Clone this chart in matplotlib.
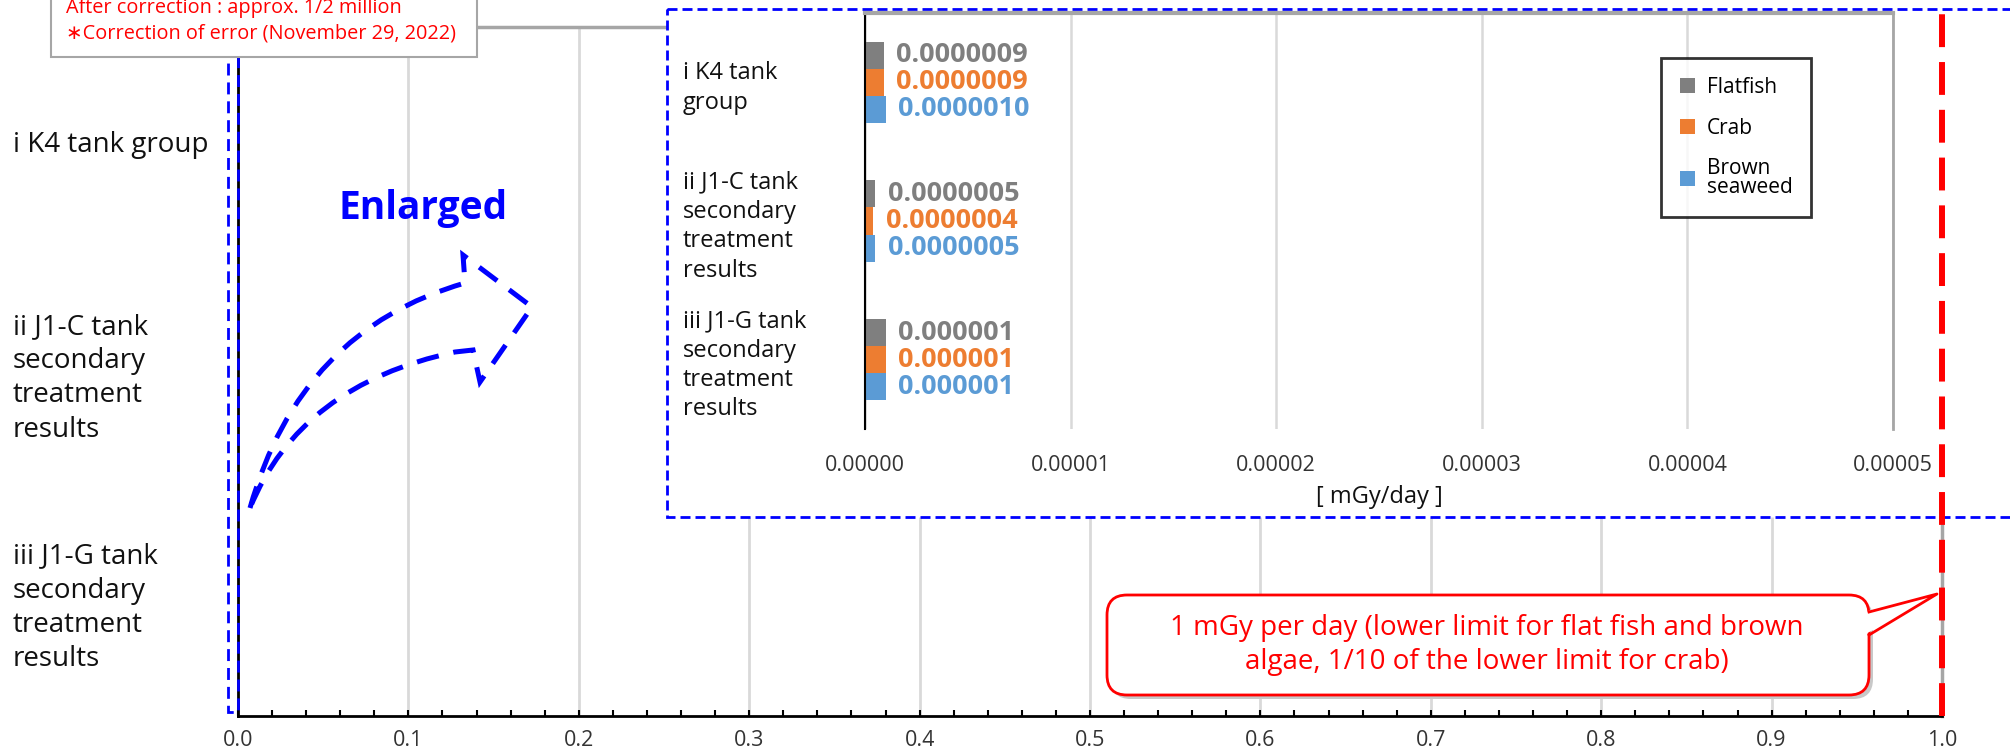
import matplotlib
matplotlib.use('Agg')
import matplotlib.pyplot as plt
import numpy as np
from matplotlib.patches import Rectangle, FancyBboxPatch, Polygon, PathPatch
from matplotlib.path import Path
from matplotlib.lines import Line2D
from matplotlib.ticker import MultipleLocator, FixedLocator
import matplotlib.transforms as mtransforms

plt.rcParams['font.family'] = ['Open Sans', 'DejaVu Sans']

# ---------------- data ----------------
categories_main = ['i K4 tank group',
                   'ii J1-C tank\nsecondary\ntreatment\nresults',
                   'iii J1-G tank\nsecondary\ntreatment\nresults']
categories_inset = ['i K4 tank\ngroup',
                    'ii J1-C tank\nsecondary\ntreatment\nresults',
                    'iii J1-G tank\nsecondary\ntreatment\nresults']
series_names = ['Flatfish', 'Crab', 'Brown\nseaweed']
flatfish = [0.0000009, 0.0000005, 0.000001]
crab = [0.0000009, 0.0000004, 0.000001]
brown_seaweed = [0.0000010, 0.0000005, 0.000001]
label_decimals = [7, 7, 6]
main_xticks = [0.0, 0.1, 0.2, 0.3, 0.4, 0.5, 0.6, 0.7, 0.8, 0.9, 1.0]
inset_xticks = [0.0, 0.00001, 0.00002, 0.00003, 0.00004, 0.00005]
threshold = 1.0
threshold_text = '1 mGy per day (lower limit for flat fish and brown\nalgae, 1/10 of the lower limit for crab)'
note_lines = ['After correction : approx. 1/2 million',
              '\u2217Correction of error (November 29, 2022)']
x_unit = '[ mGy/day ]'

colors = ['#7f7f7f', '#ed7d31', '#5b9bd5']
series = [flatfish, crab, brown_seaweed]

W, H = 2010, 755
fig = plt.figure(figsize=(W / 100, H / 100), dpi=100)
fig.patch.set_facecolor('white')

# pixel (top-left origin) -> display
PX = mtransforms.Affine2D().scale(1.0 / W, -1.0 / H).translate(0, 1) + fig.transFigure


def fr(x0, y0, x1, y1):
    return [x0 / W, 1 - y1 / H, (x1 - x0) / W, (y1 - y0) / H]


bar_h = 0.195
offsets = [-bar_h, 0.0, bar_h]
ypos = np.arange(len(categories_main))

# ---------------- main axes ----------------
ax = fig.add_axes(fr(238, 27, 1942, 716))
ax.set_zorder(0)
for vals, off, c in zip(series, offsets, colors):
    ax.barh(ypos + off, vals, height=bar_h, color=c)
ax.set_xlim(main_xticks[0], main_xticks[-1])
ax.set_ylim(2.5, -0.5)
ax.xaxis.set_major_locator(FixedLocator(main_xticks))
ax.xaxis.set_minor_locator(MultipleLocator(0.02))
ax.set_xticklabels([f'{t:.1f}' for t in main_xticks], fontsize=15.5, color='#333333')
ax.tick_params(axis='x', which='both', direction='in', length=4.3, width=1.5,
               color='black', pad=10)
ax.set_yticks(ypos)
ax.set_yticklabels(categories_main, ha='left', fontsize=20, color='#111111',
                   linespacing=1.3)
ax.tick_params(axis='y', length=0, pad=(238 - 13) * 0.72)
ax.grid(axis='x', color='#d9d9d9', lw=2)
ax.set_axisbelow(True)
for s in ['top', 'right']:
    ax.spines[s].set_color('#a6a6a6')
    ax.spines[s].set_linewidth(2.5)
for s in ['left', 'bottom']:
    ax.spines[s].set_color('black')
    ax.spines[s].set_linewidth(2)

# narrow dashed box around zero bars
fig.add_artist(Rectangle((228, -5), 10, 717, transform=PX, fill=False,
                         edgecolor='#0000ff', lw=2, linestyle=(0, (4.3, 2.5)),
                         zorder=1))

# ---------------- inset ----------------
fig.add_artist(Rectangle((667, 9), 1400, 508, transform=PX, facecolor='white',
                         edgecolor='#0000ff', lw=2, linestyle=(0, (3.6, 1.8)),
                         zorder=2))
axi = fig.add_axes(fr(865, 13, 1893, 429))
axi.set_zorder(3)
axi.set_facecolor('white')
containers = []
for vals, off, c in zip(series, offsets, colors):
    cont = axi.barh(ypos + off, vals, height=bar_h, color=c)
    containers.append(cont)
    labels = [f'{v:.{d}f}' for v, d in zip(vals, label_decimals)]
    axi.bar_label(cont, labels=labels, padding=9, color=c, fontsize=19.5,
                  fontweight='bold')
axi.set_xlim(inset_xticks[0], inset_xticks[-1])
axi.set_ylim(2.5, -0.5)
axi.xaxis.set_major_locator(FixedLocator(inset_xticks))
axi.set_xticklabels([f'{t:.5f}' for t in inset_xticks], fontsize=15.5, color='#333333')
axi.tick_params(axis='x', length=0, pad=19)
axi.set_yticks(ypos)
axi.set_yticklabels(categories_inset, ha='left', fontsize=17, color='#111111',
                    linespacing=1.3)
axi.tick_params(axis='y', length=0, pad=(865 - 683) * 0.72)
axi.set_xlabel(x_unit, fontsize=17, color='#111111', labelpad=6)
axi.grid(axis='x', color='#d9d9d9', lw=1.8)
axi.set_axisbelow(True)
axi.spines['bottom'].set_visible(False)
axi.spines['left'].set_color('black')
axi.spines['left'].set_linewidth(1.5)
axi.spines['top'].set_color('#a6a6a6')
axi.spines['top'].set_linewidth(3)
axi.spines['right'].set_color('#a6a6a6')
axi.spines['right'].set_linewidth(2)

leg = axi.legend([c.patches[0] for c in containers], series_names,
                 loc='upper left', bbox_to_anchor=(1661 / W, 1 - 58 / H),
                 bbox_transform=fig.transFigure, frameon=True, fancybox=False,
                 edgecolor='black', fontsize=15, handlelength=0.75,
                 handleheight=0.75, handletextpad=0.55, borderpad=0.9,
                 labelspacing=0.95, borderaxespad=0)
leg.get_frame().set_linewidth(2)
leg.get_texts()[2].set_linespacing(0.85)

# ---------------- curved dashed arrow + Enlarged ----------------
verts = [(250, 508), (300, 330), (465, 283),
         (463, 255), (532, 307), (480, 382), (473, 350), (455, 352),
         (300, 385), (250, 508), (250, 508)]
codes = [Path.MOVETO, Path.CURVE3, Path.CURVE3,
         Path.LINETO, Path.LINETO, Path.LINETO, Path.LINETO, Path.LINETO,
         Path.CURVE3, Path.CURVE3, Path.CLOSEPOLY]
fig.add_artist(PathPatch(Path(verts, codes), transform=PX, fill=False,
                         edgecolor='#0000ff', lw=3.6, linestyle=(0, (4.5, 3)),
                         zorder=4))
fig.text(423 / W, 1 - 209 / H, 'Enlarged', color='#0000ff', fontsize=28,
         fontweight='bold', ha='center', va='center', zorder=4)

# ---------------- note box ----------------
fig.add_artist(Rectangle((51, -10), 426, 67, transform=PX, facecolor='white',
                         edgecolor='#a6a6a6', lw=1.5, zorder=5))
fig.text(66 / W, 1 - 8 / H, note_lines[0], color='#ff0000', fontsize=14.3,
         ha='left', va='center', zorder=6)
fig.text(66 / W, 1 - 33 / H, note_lines[1], color='#ff0000', fontsize=14.3,
         ha='left', va='center', zorder=6)

# ---------------- threshold line ----------------
blend = mtransforms.blended_transform_factory(ax.transData, fig.transFigure)
fig.add_artist(Line2D([threshold, threshold], [1 - 716 / H, 1.0], transform=blend,
                      color='#ff0000', lw=4.3, linestyle=(0, (5.5, 2.5)),
                      zorder=7))

# ---------------- callout ----------------
fig.add_artist(FancyBboxPatch((1111, 599), 762, 100, transform=PX,
                              boxstyle='round,pad=0,rounding_size=20',
                              facecolor='#c8c8c8', edgecolor='none', zorder=8))
fig.add_artist(FancyBboxPatch((1107, 595), 762, 100, transform=PX,
                              boxstyle='round,pad=0,rounding_size=20',
                              facecolor='white', edgecolor='#ff0000', lw=2,
                              zorder=9))
fig.add_artist(Polygon([(1864, 612), (1937, 594), (1864, 635)], closed=True,
                       transform=PX, facecolor='white', edgecolor='none',
                       zorder=10))
fig.add_artist(Line2D([1869, 1937, 1869], [612, 594, 635], transform=PX,
                      color='#ff0000', lw=2, zorder=10))
fig.text(1487 / W, 1 - 645 / H, threshold_text, color='#ff0000', fontsize=20,
         ha='center', va='center', multialignment='center', linespacing=1.3,
         zorder=11)

fig.savefig('out.png', dpi=100, facecolor='white')
